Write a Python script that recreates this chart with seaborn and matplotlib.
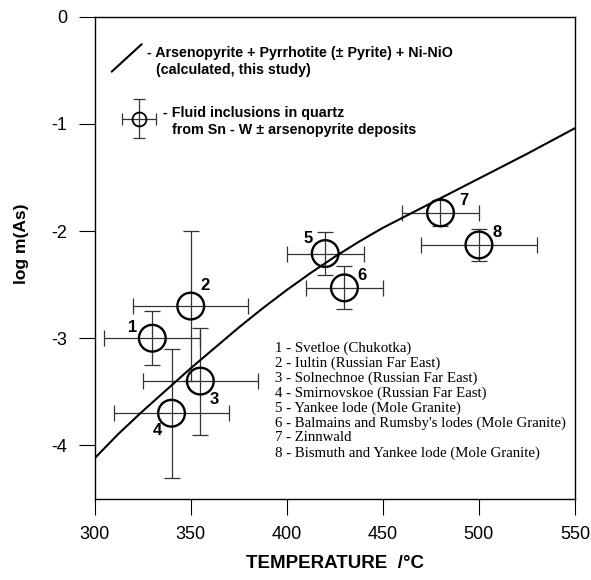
import numpy as np
import pandas as pd
import seaborn as sns
import matplotlib.pyplot as plt

# calculated curve: arsenopyrite + pyrrhotite (+/- pyrite) + Ni-NiO
curve_t = [300, 312.5, 325, 337.5, 350, 362.5, 375, 387.5, 400, 412.5, 425,
           437.5, 450, 462.5, 475, 487.5, 500, 512.5, 525, 537.5, 550]
curve_logm = [-4.12, -3.89, -3.68, -3.48, -3.28, -3.09, -2.90, -2.72, -2.55, -2.39, -2.24,
              -2.10, -1.97, -1.855, -1.74, -1.625, -1.51, -1.395, -1.28, -1.16, -1.04]

# fluid inclusions in quartz
fi_id = ["1", "2", "3", "4", "5", "6", "7", "8"]
fi_t = [330, 350, 355, 340, 420, 430, 480, 500]
fi_logm = [-3.00, -2.70, -3.40, -3.70, -2.21, -2.53, -1.83, -2.13]
fi_t_err = [25, 30, 30, 30, 20, 20, 20, 30]
fi_logm_err = [0.25, 0.70, 0.50, 0.60, 0.20, 0.20, 0.12, 0.15]

deposits = [
    "1 - Svetloe (Chukotka)",
    "2 - Iultin (Russian Far East)",
    "3 - Solnechnoe (Russian Far East)",
    "4 - Smirnovskoe (Russian Far East)",
    "5 - Yankee lode (Mole Granite)",
    "6 - Balmains and Rumsby's lodes (Mole Granite)",
    "7 - Zinnwald",
    "8 - Bismuth and Yankee lode (Mole Granite)",
]

x_ticks = [300, 350, 400, 450, 500, 550]
y_ticks = [0, -1, -2, -3, -4]

# label offsets (points) for the deposit numbers
lab_off = [(-14, 8), (10, 15), (10, -13), (-10, -12.5), (-12, 11), (13, 9), (17, 9), (13, 9)]

sns.set_theme(style="ticks")
plt.rcParams["font.family"] = ["Liberation Sans", "DejaVu Sans"]
plt.rcParams["text.color"] = "black"
plt.rcParams["axes.labelcolor"] = "black"
plt.rcParams["axes.unicode_minus"] = False

curve = pd.DataFrame({"T": curve_t, "logm": curve_logm})
fi = pd.DataFrame({"T": fi_t, "logm": fi_logm, "terr": fi_t_err, "merr": fi_logm_err})

fig = plt.figure(figsize=(5.91, 5.80), dpi=100)
ax = fig.add_axes([0.1602, 0.1397, 0.9729 - 0.1602, 0.9712 - 0.1397])

sns.lineplot(data=curve, x="T", y="logm", color="black", lw=1.5, ax=ax, zorder=2)

ax.errorbar(fi["T"], fi["logm"], xerr=fi["terr"], yerr=fi["merr"], fmt="none",
            ecolor="#333333", elinewidth=0.9, capsize=5.5, capthick=0.9, zorder=1)
sns.scatterplot(data=fi, x="T", y="logm", s=370, marker="o", facecolor="none",
                edgecolor="black", linewidth=1.7, ax=ax, zorder=3)

for lab, t, m, off in zip(fi_id, fi_t, fi_logm, lab_off):
    ax.annotate(lab, (t, m), xytext=off, textcoords="offset points",
                ha="center", va="center", fontsize=12, fontweight="bold")

# legend block
bold_kw = dict(transform=ax.transAxes, ha="left", va="center", fontsize=10.3, fontweight="bold")
ax.plot([0.0354, 0.0979], [0.886, 0.943], color="black", lw=1.5, transform=ax.transAxes)
ax.text(0.108, 0.925, "- Arsenopyrite + Pyrrhotite (\u00b1 Pyrite) + Ni-NiO", **bold_kw)
ax.text(0.127, 0.8895, "(calculated, this study)", **bold_kw)

ax.errorbar([0.0929], [0.788], xerr=[0.0354], yerr=[0.0404], fmt="none",
            ecolor="#333333", elinewidth=0.9, capsize=4, capthick=0.9, transform=ax.transAxes)
ax.plot([0.0929], [0.788], marker="o", ms=10, mfc="none", mec="black", mew=1.3,
        transform=ax.transAxes)
ax.text(0.1428, 0.7997, "- Fluid inclusions in quartz", **bold_kw)
ax.text(0.1603, 0.7651, "from Sn - W \u00b1 arsenopyrite deposits", **bold_kw)

for i, line in enumerate(deposits):
    ax.text(0.3756, 0.3131 - i * 0.0311, line, transform=ax.transAxes,
            ha="left", va="center", fontsize=10.7, family=["Liberation Serif", "DejaVu Serif"])

ax.set_xlim(300, 550)
ax.set_ylim(-4.5, 0)
ax.set_xticks(x_ticks)
ax.set_yticks(y_ticks)
ax.tick_params(direction="out", length=11.5, width=0.8, pad=8, labelsize=13,
               top=False, right=False, colors="black")
for sp in ax.spines.values():
    sp.set_visible(True)
    sp.set_linewidth(1.0)
    sp.set_color("black")

ax.set_xlabel("TEMPERATURE  /\u00b0C", fontsize=13.5, fontweight="bold")
ax.set_ylabel("log m(As)", fontsize=12.5, fontweight="bold")
ax.xaxis.set_label_coords(0.5, -0.116)
ax.yaxis.set_label_coords(-0.137, 0.53)

fig.savefig("out.png", dpi=100)
